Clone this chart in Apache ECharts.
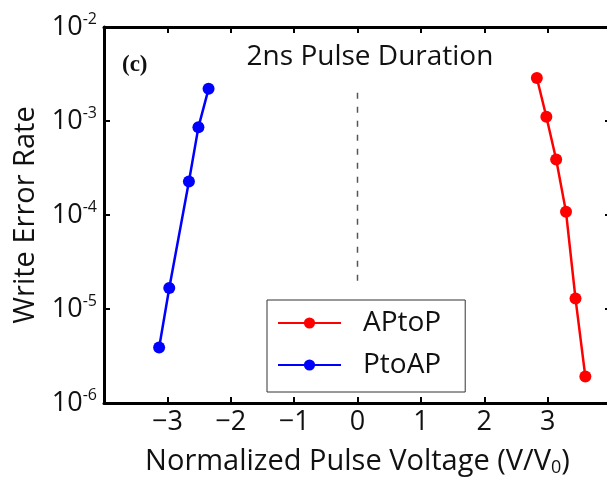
<!DOCTYPE html>
<html>
<head>
<meta charset="utf-8">
<script src="https://cdn.jsdelivr.net/npm/echarts@6/dist/echarts.min.js"></script>
<style>
  html, body { margin: 0; padding: 0; background: #fff; overflow: hidden; }
  /* the right frame of the figure sits just past the window edge */
  #chart { width: 615px; height: 482px; }
</style>
</head>
<body>
<div id="chart"></div>
<script>
// values
var apToPVoltage = [2.83, 2.98, 3.135, 3.29, 3.44, 3.595];
var apToPRate = [2.87e-3, 1.11e-3, 3.9e-4, 1.08e-4, 1.29e-5, 1.91e-6];
var pToAPVoltage = [-2.35, -2.51, -2.66, -2.97, -3.13];
var pToAPRate = [2.2e-3, 8.6e-4, 2.27e-4, 1.67e-5, 3.9e-6];
var zeroLineVoltage = [0, 0];
var zeroLineRate = [2.0e-5, 2.3e-3];

function pairs(xs, ys) {
	var out = [];
	for (var i = 0; i < xs.length; i++) out.push([xs[i], ys[i]]);
	return out;
}

var font = 'Open Sans';
var chart = echarts.init(document.getElementById('chart'));

var axisCommon = {
	axisLine: { show: true, onZero: false, lineStyle: { color: '#000', width: 3 } },
	axisTick: { show: true, inside: true, length: 6, lineStyle: { color: '#000', width: 2 } },
	splitLine: { show: false },
	minorTick: { show: false }
};

chart.setOption({
	animation: false,
	backgroundColor: '#fff',
	title: [
		{
			text: '2ns Pulse Duration',
			left: 365, top: 38, textAlign: 'center',
			textStyle: { fontFamily: font, fontWeight: 'normal', fontSize: 28, color: '#111' }
		},
		{
			text: '(c)',
			left: 117, top: 49,
			textStyle: { fontFamily: 'Liberation Serif', fontWeight: 'bold', fontSize: 23, color: '#111' }
		}
	],
	grid: { left: 104, right: 4, top: 27, bottom: 76 },
	legend: {
		data: ['APtoP', 'PtoAP'],
		orient: 'vertical',
		left: 267, top: 300,
		padding: [9, 24, 13, 10],
		itemGap: 14,
		itemWidth: 63, itemHeight: 14,
		borderColor: '#333', borderWidth: 1,
		backgroundColor: '#fff',
		textStyle: { fontFamily: font, fontSize: 28, color: '#111', padding: [0, 0, 0, 17] }
	},
	xAxis: [
		Object.assign({}, axisCommon, {
			type: 'value', min: -4, max: 4, interval: 1, position: 'bottom',
			name: 'Normalized Pulse Voltage (V/V{sub|0})',
			nameLocation: 'middle', nameGap: 44,
			nameTextStyle: {
				fontFamily: font, fontSize: 29, color: '#111',
				rich: { sub: { fontFamily: font, fontSize: 18, color: '#111', padding: [12, 0, 0, 0] } }
			},
			axisLabel: {
				margin: 6, fontFamily: font, fontSize: 27, color: '#111',
				showMinLabel: false, showMaxLabel: false,
				formatter: function (v) { return String(v).replace('-', '\u2212'); }
			}
		}),
		Object.assign({}, axisCommon, {
			type: 'value', min: -4, max: 4, interval: 1, position: 'top',
			axisLabel: { show: false }
		})
	],
	yAxis: [
		Object.assign({}, axisCommon, {
			type: 'log', logBase: 10, min: 1e-6, max: 1e-2, position: 'left',
			name: 'Write Error Rate',
			nameLocation: 'middle', nameGap: 64,
			nameTextStyle: { fontFamily: font, fontSize: 29, color: '#111' },
			axisLabel: {
				margin: 7,
				formatter: function (v) {
					var e = Math.round(Math.log10(v));
					return '{b|10}{s|' + e + '}';
				},
				rich: {
					b: { fontFamily: font, fontSize: 27, color: '#111' },
					s: { fontFamily: font, fontSize: 16, color: '#111', padding: [0, 0, 16, 0] }
				}
			}
		}),
		Object.assign({}, axisCommon, {
			type: 'log', logBase: 10, min: 1e-6, max: 1e-2, position: 'right',
			axisLabel: { show: false }
		})
	],
	series: [
		{
			name: 'APtoP', type: 'line', xAxisIndex: 0, yAxisIndex: 0,
			data: pairs(apToPVoltage, apToPRate),
			symbol: 'circle', symbolSize: 12,
			color: '#ff0000',
			lineStyle: { color: '#ff0000', width: 2.5 },
			itemStyle: { color: '#ff0000' }
		},
		{
			name: 'PtoAP', type: 'line', xAxisIndex: 0, yAxisIndex: 0,
			data: pairs(pToAPVoltage, pToAPRate),
			symbol: 'circle', symbolSize: 12,
			color: '#0000ff',
			lineStyle: { color: '#0000ff', width: 2.5 },
			itemStyle: { color: '#0000ff' }
		},
		{
			name: 'zero', type: 'line', xAxisIndex: 0, yAxisIndex: 0,
			data: pairs(zeroLineVoltage, zeroLineRate),
			symbol: 'none', silent: true,
			lineStyle: { color: '#555', width: 1.5, type: [6, 8] }
		}
	]
});
</script>
</body>
</html>
